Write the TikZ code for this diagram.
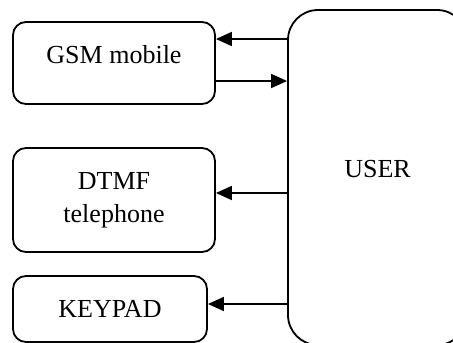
\documentclass[tikz,border=0pt]{standalone}
\usepackage{fontspec}
\setmainfont{Liberation Serif}
\usetikzlibrary{arrows.meta}

\begin{document}
\begin{tikzpicture}[%
    x=1pt, y=-1pt,
    device/.style={%
        draw,
        rounded corners=13pt,
        line width=1.8pt,
        minimum width=202pt,
        align=center,
        inner sep=0pt,
        font=\fontsize{26}{33}\selectfont
    },
    user/.style={%
        draw,
        rounded corners=30pt,
        line width=1.8pt,
        minimum width=179pt,
        minimum height=335pt,
        inner sep=0pt,
        text height=20pt,
        text depth=20pt,
        font=\fontsize{26}{33}\selectfont
    },
    link/.style={%
        line width=1.8pt,
        -{Triangle[length=16pt,width=14pt]}
    }
]
\clip (0,0) rectangle (453,343);

% User
    \node[user] (user) at (377.5,177.5) {USER};

% Devices
    \node[device, minimum height=82pt, text height=20pt, text depth=20pt] (gsm) at (114,63) {GSM mobile};
    \node[device, minimum height=104pt] (dtmf) at (114,200) {DTMF\\telephone};
    \node[device, minimum width=194pt, minimum height=66pt] (keypad) at (110,309) {KEYPAD};

% Arrows
\draw[link] ([yshift=24pt]gsm.east -| user.west) -- ([yshift=24pt]gsm.east);
\draw[link] ([yshift=-18pt]gsm.east) -- ([yshift=-18pt]gsm.east -| user.west);
\draw[link] ([yshift=7pt]dtmf.east -| user.west) -- ([yshift=7pt]dtmf.east);
\draw[link] ([yshift=5pt]keypad.east -| user.west) -- ([yshift=5pt]keypad.east);

\end{tikzpicture}
\end{document}
